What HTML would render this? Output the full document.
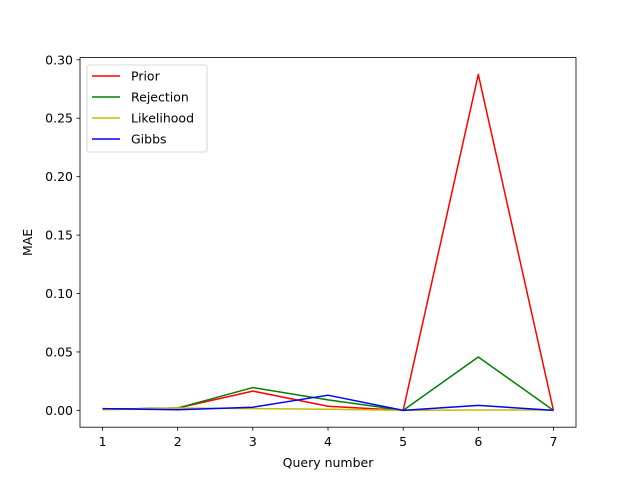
<!DOCTYPE html>
<html><head><meta charset="utf-8"><style>
body{margin:0;background:#fff}
svg{display:block;font-family:"DejaVu Sans","Liberation Sans",sans-serif}
</style></head><body>
<svg id="chart" width="640" height="480"></svg>
<script>
const queries=[1,2,3,4,5,6,7];
const prior=[0.001,0.002,0.0165,0.0035,0,0.2875,0];
const rejection=[0.001,0.002,0.0195,0.009,0,0.0457,0];
const likelihood=[0.0005,0.002,0.0015,0.001,0,0.0003,0.0003];
const gibbs=[0.0015,0.0005,0.0027,0.013,0,0.0043,0];
const yTicks=[0,0.05,0.10,0.15,0.20,0.25,0.30];
const yTickLabels=["0.00","0.05","0.10","0.15","0.20","0.25","0.30"];
const xTicks=[1,2,3,4,5,6,7];

const L=80,R=576,T=57.6,B=427.2;
const xmin=0.7,xmax=7.3,ymin=-0.0144,ymax=0.3019;
const FS=12.5;
const sx=v=>L+(v-xmin)/(xmax-xmin)*(R-L);
const sy=v=>B-(v-ymin)/(ymax-ymin)*(B-T);
const svg=document.getElementById('chart');
const NS="http://www.w3.org/2000/svg";
function mk(tag,attrs,parent){const e=document.createElementNS(NS,tag);for(const k in attrs)e.setAttribute(k,attrs[k]);(parent||svg).appendChild(e);return e;}

const series=[["Prior",prior,"#ff0000"],["Rejection",rejection,"#008000"],["Likelihood",likelihood,"#bfbf00"],["Gibbs",gibbs,"#0000ff"]];
series.forEach(([name,vals,c])=>{
  const p=mk('polyline',{points:vals.map((v,i)=>sx(queries[i])+','+sy(v)).join(' '),fill:'none',stroke:c,'stroke-width':1.5,'stroke-linejoin':'round'});
  
  
});
const frame=mk('rect',{x:L,y:T,width:R-L,height:B-T,fill:'none',stroke:'#000','stroke-width':0.8});


xTicks.forEach(v=>{
  mk('line',{x1:sx(v),x2:sx(v),y1:B,y2:B+3.5,stroke:'#000','stroke-width':0.8});
  const t=mk('text',{x:sx(v),y:B+19,'text-anchor':'middle','font-size':FS});
  t.textContent=v;
  
  
});
yTicks.forEach((v,i)=>{
  mk('line',{x1:L-3.5,x2:L,y1:sy(v),y2:sy(v),stroke:'#000','stroke-width':0.8});
  const t=mk('text',{x:L-7,y:sy(v)+4.5,'text-anchor':'end','font-size':FS});
  t.textContent=yTickLabels[i];
  
  
});
const xt=mk('text',{x:(L+R)/2,y:467,'text-anchor':'middle','font-size':FS});
xt.textContent='Query number';


const yt=mk('text',{x:32,y:(T+B)/2,'text-anchor':'middle','font-size':FS,transform:`rotate(-90 32 ${(T+B)/2})`});
yt.textContent='MAE';


const lg=mk('g',{});


mk('rect',{x:87,y:65,width:120,height:87,rx:2,fill:'#fff',stroke:'#ccc','stroke-width':0.8},lg);
series.forEach(([name,vals,c],i)=>{
  const y=76+i*21;
  mk('line',{x1:92,x2:120,y1:y,y2:y,stroke:c,'stroke-width':1.5},lg);
  const t=mk('text',{x:131,y:y+4.5,'font-size':FS},lg);
  t.textContent=name;
  
  
});
</script>
</body></html>
